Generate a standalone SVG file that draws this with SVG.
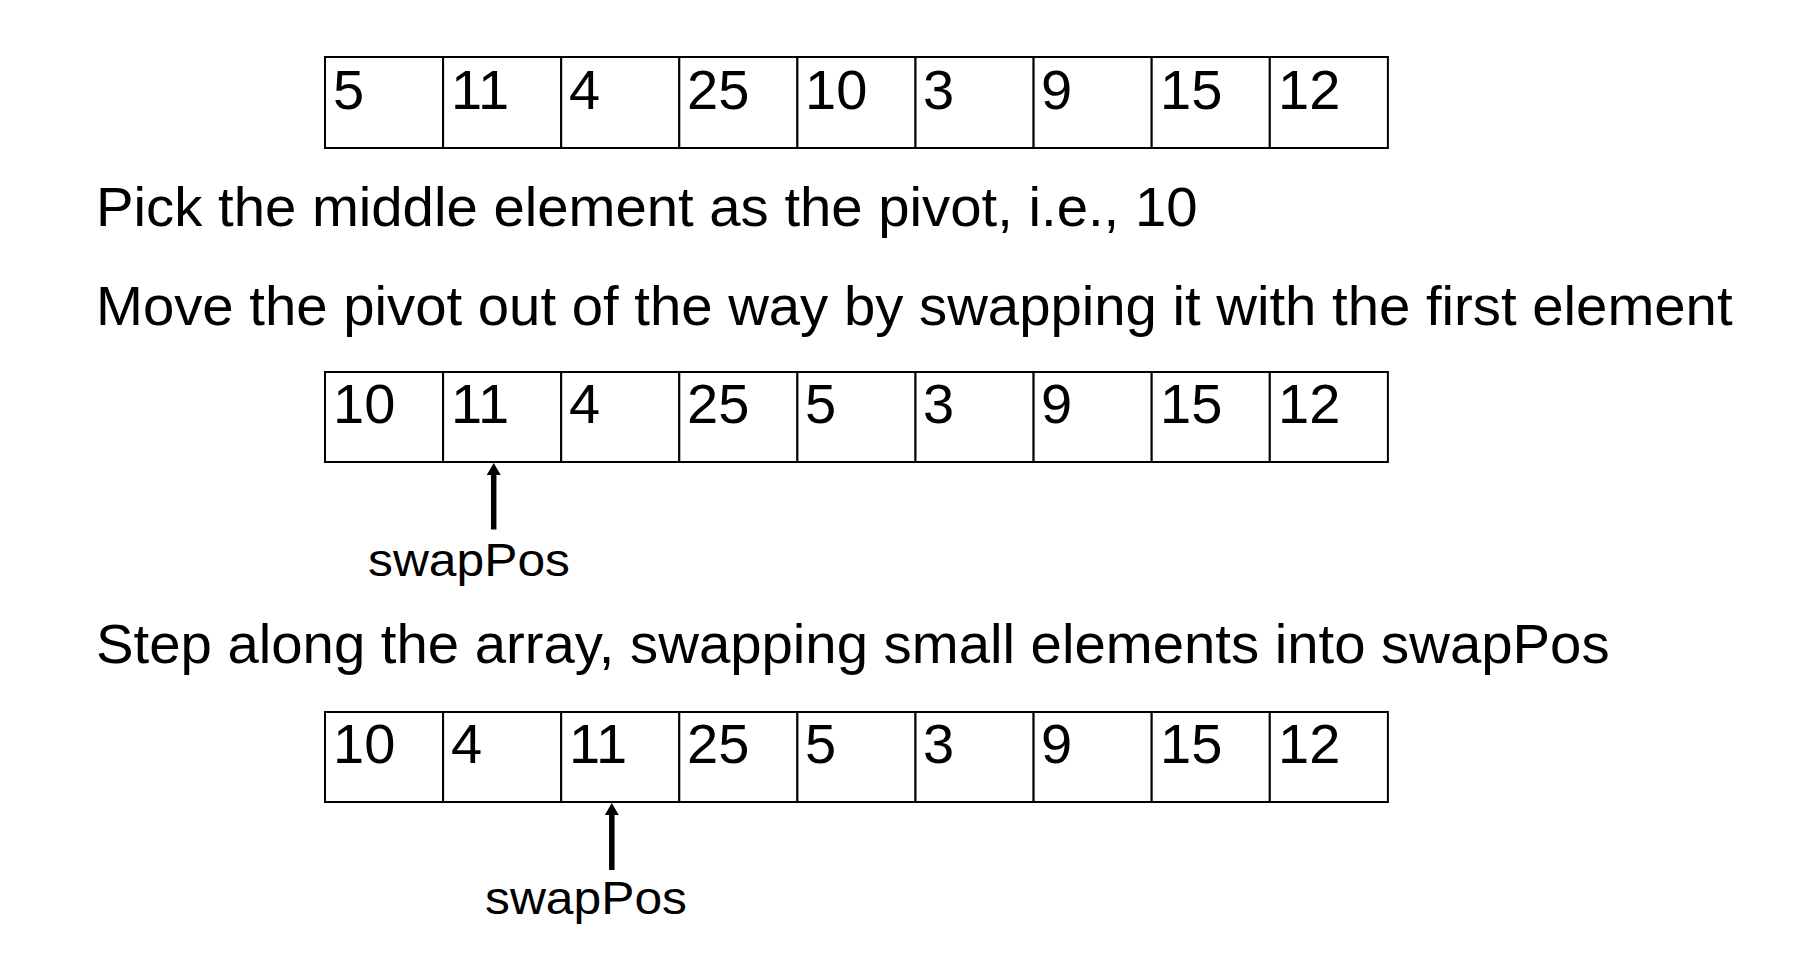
<svg xmlns="http://www.w3.org/2000/svg" width="1810" height="958" viewBox="0 0 1810 958">
<style>
.cell{fill:#fff;stroke:#000;stroke-width:2}
.num{font-family:"Liberation Sans",Arial,sans-serif;font-size:56px;fill:#000}
.txt{font-family:"Liberation Sans",Arial,sans-serif;font-size:56.3px;fill:#000}
.lbl{font-family:"Liberation Sans",Arial,sans-serif;font-size:46px;fill:#000}
.arr{stroke:#000;stroke-width:5.5;fill:none}
</style>
<defs>
<marker id="ah" markerUnits="userSpaceOnUse" markerWidth="12" markerHeight="14" refX="0" refY="7" orient="auto" viewBox="0 0 12 14">
<path d="M0,0 L12,7 L0,14 Z" fill="#000"/>
</marker>
</defs>
<rect width="1810" height="958" fill="#fff"/>

<g id="array1">
<rect class="cell" x="325" y="57" width="118.1" height="91"/>
<rect class="cell" x="443.1" y="57" width="118.1" height="91"/>
<rect class="cell" x="561.2" y="57" width="118.1" height="91"/>
<rect class="cell" x="679.3" y="57" width="118.1" height="91"/>
<rect class="cell" x="797.4" y="57" width="118.1" height="91"/>
<rect class="cell" x="915.5" y="57" width="118.1" height="91"/>
<rect class="cell" x="1033.6" y="57" width="118.1" height="91"/>
<rect class="cell" x="1151.7" y="57" width="118.1" height="91"/>
<rect class="cell" x="1269.8" y="57" width="118.1" height="91"/>
<text class="num" x="333" y="109">5</text>
<text class="num" x="451" y="109">11</text>
<text class="num" x="569" y="109">4</text>
<text class="num" x="687" y="109">25</text>
<text class="num" x="805" y="109">10</text>
<text class="num" x="923" y="109">3</text>
<text class="num" x="1041" y="109">9</text>
<text class="num" x="1160" y="109">15</text>
<text class="num" x="1278" y="109">12</text>
</g>

<g id="text1"><text class="txt" x="96" y="226">Pick the middle element as the pivot, i.e., 10</text></g>
<g id="text2"><text class="txt" x="96" y="325">Move the pivot out of the way by swapping it with the first element</text></g>

<g id="array2">
<rect class="cell" x="325" y="372" width="118.1" height="90"/>
<rect class="cell" x="443.1" y="372" width="118.1" height="90"/>
<rect class="cell" x="561.2" y="372" width="118.1" height="90"/>
<rect class="cell" x="679.3" y="372" width="118.1" height="90"/>
<rect class="cell" x="797.4" y="372" width="118.1" height="90"/>
<rect class="cell" x="915.5" y="372" width="118.1" height="90"/>
<rect class="cell" x="1033.6" y="372" width="118.1" height="90"/>
<rect class="cell" x="1151.7" y="372" width="118.1" height="90"/>
<rect class="cell" x="1269.8" y="372" width="118.1" height="90"/>
<text class="num" x="333" y="423">10</text>
<text class="num" x="451" y="423">11</text>
<text class="num" x="569" y="423">4</text>
<text class="num" x="687" y="423">25</text>
<text class="num" x="805" y="423">5</text>
<text class="num" x="923" y="423">3</text>
<text class="num" x="1041" y="423">9</text>
<text class="num" x="1160" y="423">15</text>
<text class="num" x="1278" y="423">12</text>
</g>

<g id="label1"><text class="lbl" x="368" y="576" textLength="202" lengthAdjust="spacingAndGlyphs">swapPos</text></g>

<g id="text3"><text class="txt" x="96" y="663">Step along the array, swapping small elements into swapPos</text></g>

<g id="array3">
<rect class="cell" x="325" y="712" width="118.1" height="90"/>
<rect class="cell" x="443.1" y="712" width="118.1" height="90"/>
<rect class="cell" x="561.2" y="712" width="118.1" height="90"/>
<rect class="cell" x="679.3" y="712" width="118.1" height="90"/>
<rect class="cell" x="797.4" y="712" width="118.1" height="90"/>
<rect class="cell" x="915.5" y="712" width="118.1" height="90"/>
<rect class="cell" x="1033.6" y="712" width="118.1" height="90"/>
<rect class="cell" x="1151.7" y="712" width="118.1" height="90"/>
<rect class="cell" x="1269.8" y="712" width="118.1" height="90"/>
<text class="num" x="333" y="763">10</text>
<text class="num" x="451" y="763">4</text>
<text class="num" x="569" y="763">11</text>
<text class="num" x="687" y="763">25</text>
<text class="num" x="805" y="763">5</text>
<text class="num" x="923" y="763">3</text>
<text class="num" x="1041" y="763">9</text>
<text class="num" x="1160" y="763">15</text>
<text class="num" x="1278" y="763">12</text>
</g>

<g id="label2"><text class="lbl" x="485" y="914" textLength="202" lengthAdjust="spacingAndGlyphs">swapPos</text></g>

<g id="connectors">
<line class="arr" x1="493.7" y1="529.5" x2="493.7" y2="475" marker-end="url(#ah)"/>
<line class="arr" x1="611.8" y1="870" x2="611.8" y2="815" marker-end="url(#ah)"/>
</g>
</svg>
